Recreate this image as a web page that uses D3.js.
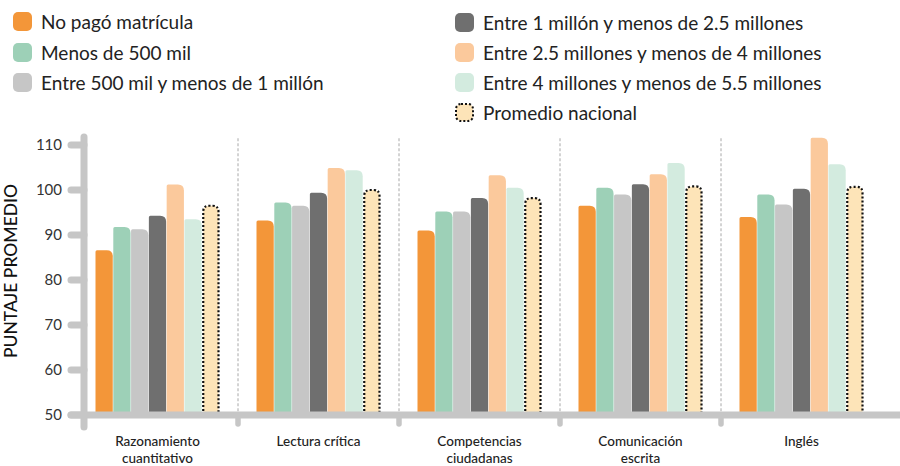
<!DOCTYPE html>
<html>
<head>
<meta charset="utf-8">
<script src="https://cdn.jsdelivr.net/npm/d3@7"></script>
<style>
  body { margin: 0; background: #fff; }
  svg { display: block; font-family: Lato, "Open Sans", sans-serif; }
</style>
</head>
<body>
<div id="chart"></div>
<script>
// categories (two lines each for the x labels)
const subjects = ['Razonamiento cuantitativo', 'Lectura crítica', 'Competencias ciudadanas', 'Comunicación escrita', 'Inglés']
const subjectLines = [['Razonamiento', 'cuantitativo'], ['Lectura crítica'], ['Competencias', 'ciudadanas'], ['Comunicación', 'escrita'], ['Inglés']]

// series values, one per subject
const noPago      = [86.6, 93.2, 91.0, 96.5, 94.0]
const menos500    = [91.8, 97.2, 95.2, 100.5, 99.0]
const entre500a1  = [91.3, 96.5, 95.2, 99.0, 96.8]
const entre1a25   = [94.3, 99.4, 98.2, 101.3, 100.3]
const entre25a4   = [101.2, 104.9, 103.3, 103.5, 111.6]
const entre4a55   = [93.5, 104.4, 100.5, 106.0, 105.7]
const promedio    = [96.5, 100.0, 98.2, 100.8, 100.7]

const seriesNames = [
  'No pagó matrícula', 'Menos de 500 mil', 'Entre 500 mil y menos de 1 millón',
  'Entre 1 millón y menos de 2.5 millones', 'Entre 2.5 millones y menos de 4 millones',
  'Entre 4 millones y menos de 5.5 millones', 'Promedio nacional'
]
const seriesValues = [noPago, menos500, entre500a1, entre1a25, entre25a4, entre4a55, promedio]
const seriesColors = ['#f39639', '#9dd0b7', '#c6c6c6', '#6f6f6f', '#fbc99c', '#d3ebdf', '#fde4b8']
const yTicks = [50, 60, 70, 80, 90, 100, 110]

const width = 900, height = 466
const axisColor = '#c6c6c6'

const svg = d3.select('#chart').append('svg')
  .attr('width', width)
  .attr('height', height)

// scales
const x0 = d3.scaleBand().domain(subjects).range([77, 882])
const x1 = d3.scaleBand().domain(seriesNames)
  .range([18.5, x0.bandwidth() - 18.5])
  .paddingInner(0.03)
const y = d3.scaleLinear().domain([50, 110]).range([415, 145])

// bar with rounded top corners (left radius rl, right radius rr)
const barPath = (bx, by, w, h, rl, rr) => {
  const b = by + h
  return `M${bx},${b}V${by + rl}Q${bx},${by} ${bx + rl},${by}` +
    `H${bx + w - rr}Q${bx + w},${by} ${bx + w},${by + rr}V${b}Z`
}

// group separators (dashed)
const seps = subjects.slice(1).map(s => x0(s))
svg.append('g').selectAll('line')
  .data(seps)
  .join('line')
    .attr('x1', d => d).attr('x2', d => d)
    .attr('y1', y(111.5)).attr('y2', y(50))
    .attr('stroke', '#a8a8a8')
    .attr('stroke-width', 1)
    .attr('stroke-dasharray', '3,2')

// bars
const groups = svg.append('g').selectAll('g')
  .data(subjects)
  .join('g')
    .attr('transform', d => `translate(${x0(d)},0)`)

groups.selectAll('path')
  .data((s, i) => seriesNames.map((name, k) => ({ name, k, value: seriesValues[k][i] })))
  .join('path')
    .attr('d', d => {
      const isAvg = d.k === 6
      const bx = x1(d.name) + (isAvg ? 1 : 0)
      const w = x1.bandwidth() - (isAvg ? 2 : 0)
      const top = y(d.value)
      return barPath(bx, top, w, y(50) - top, isAvg ? 6 : 1.5, 6)
    })
    .attr('fill', d => seriesColors[d.k])
    .attr('stroke', d => d.k === 6 ? '#111' : 'none')
    .attr('stroke-width', d => d.k === 6 ? 2.2 : 0)
    .attr('stroke-dasharray', d => d.k === 6 ? '2,2' : null)

// axes (thick rounded gray lines)
const axes = svg.append('g')
  .attr('stroke', axisColor)
  .attr('stroke-linecap', 'round')

axes.selectAll('.tick')
  .data(yTicks)
  .join('line')
    .attr('class', 'tick')
    .attr('x1', 71).attr('x2', 84)
    .attr('y1', d => y(d)).attr('y2', d => y(d))
    .attr('stroke-width', 7)

axes.selectAll('.septick')
  .data(seps)
  .join('line')
    .attr('class', 'septick')
    .attr('x1', d => d).attr('x2', d => d)
    .attr('y1', y(50)).attr('y2', 424)
    .attr('stroke-width', 5.5)

axes.append('line')
  .attr('x1', 84).attr('x2', 84)
  .attr('y1', 137).attr('y2', 427)
  .attr('stroke-width', 7)

axes.append('line')
  .attr('x1', 71).attr('x2', 905)
  .attr('y1', y(50)).attr('y2', y(50))
  .attr('stroke-width', 7)

// tick labels
svg.append('g').selectAll('text')
  .data(yTicks)
  .join('text')
    .attr('x', 62)
    .attr('y', d => y(d))
    .attr('dy', '0.35em')
    .attr('text-anchor', 'end')
    .attr('font-size', 15)
    .attr('fill', '#333')
    .text(d => d)

// y title
svg.append('text')
  .attr('transform', `translate(17,${271}) rotate(-90)`)
  .attr('text-anchor', 'middle')
  .attr('font-size', 17.5)
  .attr('font-weight', 500)
  .attr('fill', '#111')
  .text('PUNTAJE PROMEDIO')

// x labels, one text per line
const xLabelData = subjects.flatMap((s, i) => subjectLines[i].map((line, j) => ({ s, line, j })))
svg.append('g').selectAll('text')
  .data(xLabelData)
  .join('text')
    .attr('x', d => x0(d.s) + x0.bandwidth() / 2)
    .attr('y', d => 446 + d.j * 16.5)
    .attr('text-anchor', 'middle')
    .attr('font-size', 13.5)
    .attr('font-weight', 500)
    .attr('fill', '#222')
    .text(d => d.line)

// legend in two columns
const legendPos = [
  [13, 12], [13, 43], [13, 73],
  [455, 13], [455, 43], [455, 73], [455, 103]
]
const legend = svg.append('g').selectAll('g')
  .data(seriesNames)
  .join('g')
    .attr('transform', (d, i) => `translate(${legendPos[i][0]},${legendPos[i][1]})`)

legend.append('rect')
  .attr('x', (d, i) => i === 6 ? 1 : 0)
  .attr('y', (d, i) => i === 6 ? 1 : 0)
  .attr('width', (d, i) => i === 6 ? 17 : 19)
  .attr('height', (d, i) => i === 6 ? 17 : 19)
  .attr('rx', 5)
  .attr('fill', (d, i) => seriesColors[i])
  .attr('stroke', (d, i) => i === 6 ? '#111' : 'none')
  .attr('stroke-width', 2)
  .attr('stroke-dasharray', (d, i) => i === 6 ? '2,2' : null)

legend.append('text')
  .attr('x', 28)
  .attr('y', 10)
  .attr('dy', '0.35em')
  .attr('font-size', 19)
  .attr('fill', '#222')
  .text(d => d)
</script>
</body>
</html>
